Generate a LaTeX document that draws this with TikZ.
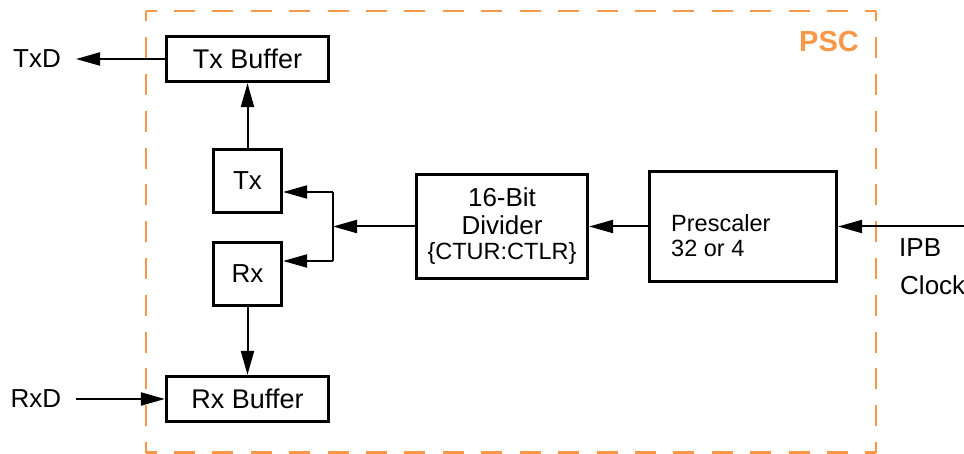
\documentclass[tikz,border=0pt]{standalone}
\usepackage{fontspec}
\setmainfont{Liberation Sans}
\usetikzlibrary{arrows.meta,calc}
\definecolor{pscorange}{RGB}{248,152,72}
\tikzset{
  blk/.style={draw=black, line width=3.2pt, inner sep=0pt, fill=white},
  txt/.style={font=\fontsize{26}{28}\selectfont, inner sep=0pt},
  bigtxt/.style={font=\fontsize{27}{29}\selectfont, inner sep=0pt},
  conn/.style={line width=2pt, -{Triangle[length=24pt,width=13pt]}},
  plain/.style={line width=2pt},
  frameside/.style={draw=pscorange, line width=2.8pt},
}
\begin{document}
\begin{tikzpicture}[x=1pt,y=-1pt]
\useasboundingbox (0,0) rectangle (964,454);
% PSC frame corners
\coordinate (ftl) at (146,11);
\coordinate (ftr) at (876,11);
\coordinate (fbr) at (876,452.5);
\coordinate (fbl) at (146,452.5);
\draw[frameside, dash pattern=on 21pt off 17.42pt, dash phase=10.5pt] (ftl) -- (ftr);
\draw[frameside, dash pattern=on 21pt off 17.42pt, dash phase=10.5pt] (fbl) -- (fbr);
\draw[frameside, dash pattern=on 21pt off 15.79pt, dash phase=10.5pt] (ftl) -- (fbl);
\draw[frameside, dash pattern=on 21pt off 15.79pt, dash phase=10.5pt] (ftr) -- (fbr);
\node[anchor=base east, inner sep=0pt, text=pscorange, font=\fontsize{29}{30}\selectfont\bfseries] (psc) at (859,52) {PSC};

% blocks
\node[blk, bigtxt, minimum width=162pt, minimum height=45pt] (txbuf) at (247.5,59) {Tx Buffer};
\node[blk, txt, minimum width=68pt, minimum height=63pt] (tx) at (247.5,181) {Tx};
\node[blk, txt, minimum width=68pt, minimum height=63pt] (rx) at (247.5,274) {Rx};
\node[blk, bigtxt, minimum width=162pt, minimum height=45pt] (rxbuf) at (247.5,399) {Rx Buffer};
\node[blk, txt, minimum width=171pt, minimum height=104pt, align=center] (div) at (502,226.5)
  {16-Bit\\Divider\\[-3pt]{\fontsize{23.5}{24}\selectfont\{CTUR:CTLR\}}};
\node[blk, minimum width=187pt, minimum height=110pt] (pre) at (743,226.5) {};
\node[anchor=base west, inner sep=0pt, align=left, font=\fontsize{23.5}{25}\selectfont] (pretxt) at (671,257) {Prescaler\\32 or 4};

% outside labels
\node[txt] (txd) at (37,59) {TxD};
\node[txt] (rxd) at (36,399) {RxD};
\node[txt, anchor=base west] (ipb) at (899,257) {IPB};
\node[txt, anchor=base west] (clock) at (900,295) {Clock};

% free ends
\coordinate (txdend) at (76,59);
\coordinate (rxdend) at (76,399);
\coordinate (clkend) at (964,226.5);
\coordinate (j1) at (333,192);
\coordinate (j2) at (333,261);

% connectors
\draw[conn] (tx) -- (txbuf);
\draw[conn] (rx) -- (rxbuf);
\draw[conn] (txbuf.west) -- (txdend);
\draw[conn] (rxdend) -- (rxbuf.west);
\draw[conn] (clkend) -- (pre.east);
\draw[conn] (pre.west) -- (div.east);
\draw[conn] (div.west) -- (div.west -| j1);
\draw[plain] (j1) -- (j2);
\draw[conn] (j1) -- (j1 -| tx.east);
\draw[conn] (j2) -- (j2 -| rx.east);
\end{tikzpicture}
\end{document}
